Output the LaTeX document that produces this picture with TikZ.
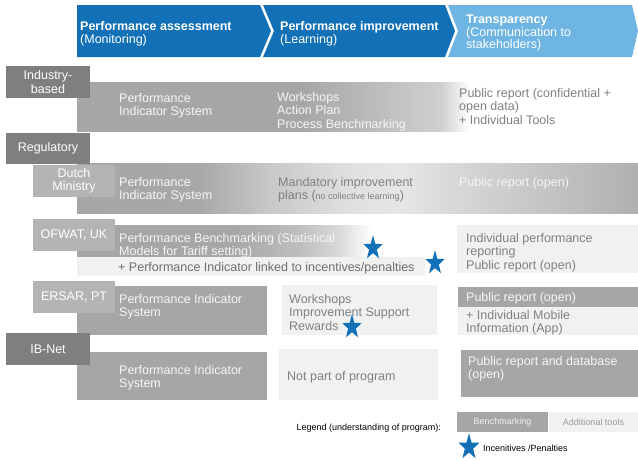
\documentclass[tikz,border=0pt]{standalone}
\usepackage{fontspec}
\setmainfont{Liberation Sans}
\usetikzlibrary{shapes.geometric}
\usepackage{xcolor}

\definecolor{hdrDark}{RGB}{18,112,183}
\definecolor{hdrLight}{RGB}{110,181,228}
\definecolor{lblDark}{RGB}{127,127,127}
\definecolor{lblLight}{RGB}{180,180,180}
\definecolor{barGray}{RGB}{166,166,166}
\definecolor{boxLight}{RGB}{240,241,241}
\definecolor{txtGray}{RGB}{128,128,128}
\definecolor{txtDark}{RGB}{110,110,110}
\definecolor{txtWhite}{RGB}{246,246,246}
\definecolor{fadeA}{RGB}{207,207,207}
\definecolor{dA}{RGB}{168,168,168}
\definecolor{dB}{RGB}{200,200,200}
\definecolor{dC}{RGB}{224,224,224}
\definecolor{dD}{RGB}{230,230,230}
\definecolor{dE}{RGB}{212,212,212}
\definecolor{dF}{RGB}{176,176,176}
\definecolor{oA}{RGB}{190,190,190}
\definecolor{oB}{RGB}{218,218,218}

\newcommand{\bodyfont}{\fontsize{12.5}{13.5}\selectfont}
\newcommand{\legfont}{\fontsize{9}{10}\selectfont}

% fades of the grey bars
\pgfdeclarehorizontalshading{indFade}{100bp}{color(0bp)=(barGray); color(44.9bp)=(barGray); color(57.4bp)=(fadeA); color(60bp)=(white); color(100bp)=(white)}
\pgfdeclarehorizontalshading{dutchFade}{100bp}{color(0bp)=(barGray); color(25bp)=(barGray); color(36bp)=(dA); color(42.2bp)=(dB); color(49.3bp)=(dC); color(53.8bp)=(dD); color(60bp)=(dE); color(75bp)=(dF); color(100bp)=(dF)}
\pgfdeclarehorizontalshading{ofwatFade}{100bp}{color(0bp)=(barGray); color(50.2bp)=(barGray); color(61.8bp)=(oA); color(68.4bp)=(oB); color(73.7bp)=(white); color(100bp)=(white)}

\begin{document}
\begin{tikzpicture}[
    x=1pt, y=-1pt,
    lbldark/.style={fill=lblDark, text=white, minimum width=84pt, minimum height=32pt, inner sep=0pt, align=center, font=\bodyfont},
    lbllight/.style={lbldark, fill=lblLight, minimum width=82pt},
    bar/.style={inner sep=0pt, shade},
    lightbox/.style={fill=boxLight, inner sep=0pt},
    graybox/.style={fill=barGray, inner sep=0pt},
    txt/.style={anchor=north west, inner sep=0pt, align=left, font=\bodyfont, text=txtGray},
    wtxt/.style={txt, text=txtWhite},
    htxt/.style={txt, text=white},
    incstar/.style={star, star points=5, star point ratio=2.5, fill=hdrDark, inner sep=0pt, minimum size=25.5pt, xscale=0.8, transform shape}
]
\useasboundingbox (0,0) rectangle (638,461);

% Header chevrons
\fill[hdrDark] (77,5) -- (260,5) -- (271,31) -- (260,57) -- (77,57) -- cycle;
\fill[hdrDark] (263,5) -- (445,5) -- (455,31) -- (445,57) -- (263,57) -- (274,31) -- cycle;
\fill[hdrLight] (448,5) -- (632,5) -- (638,31) -- (632,57) -- (448,57) -- (458,31) -- cycle;
\node[htxt] (hdrA) at (80,21) {\textbf{Performance assessment}\\(Monitoring)};
\node[htxt] (hdrB) at (280,21) {\textbf{Performance improvement}\\(Learning)};
\node[htxt, font=\fontsize{12.5}{12.5}\selectfont] (hdrC) at (466,15) {\textbf{Transparency}\\(Communication to\\stakeholders)};

% Bars and boxes
\node[bar, shading=indFade, minimum width=561pt, minimum height=49pt] (indBar) at (357.5,106.5) {};
\node[bar, shading=dutchFade, minimum width=561pt, minimum height=50pt] (dutchBar) at (357.5,188) {};
\node[bar, shading=ofwatFade, minimum width=303pt, minimum height=32pt] (ofwatBar) at (228.5,241) {};
\node[lightbox, minimum width=348pt, minimum height=19pt] (ofwatStrip) at (251,266.5) {};
\node[lightbox, minimum width=181pt, minimum height=48pt] (ofwatTrans) at (547.5,249) {};
\node[graybox, minimum width=190pt, minimum height=49pt] (ersarBar) at (172,310.5) {};
\node[lightbox, minimum width=155pt, minimum height=50pt] (ersarImp) at (359.5,310) {};
\node[graybox, minimum width=180pt, minimum height=20pt] (ersarPub) at (548,297) {};
\node[lightbox, minimum width=180pt, minimum height=28pt] (ersarApp) at (548,321) {};
\node[graybox, minimum width=190pt, minimum height=48pt] (ibBar) at (172,376) {};
\node[lightbox, minimum width=159pt, minimum height=51pt] (ibImp) at (358.5,374.5) {};
\node[graybox, minimum width=177pt, minimum height=47pt] (ibPub) at (549.5,373.5) {};

% Row labels
\node[lbldark] (indLbl) at (48,82) {Industry-\\based};
\node[lbldark, minimum height=31pt] (regLbl) at (48,148.5) {Regulatory};
\node[lbllight] (dutchLbl) at (74,181) {Dutch\\Ministry};
\node[lbllight] (ofwatLbl) at (74,234.5) {OFWAT, UK};
\node[lbllight] (ersarLbl) at (74,297) {ERSAR, PT};
\node[lbldark] (ibLbl) at (48,349) {IB-Net};

% Texts in the rows
\node[wtxt] (indT1) at (119,93) {Performance\\Indicator System};
\node[wtxt] (indT2) at (277,92) {Workshops\\Action Plan\\Process Benchmarking};
\node[txt] (indT3) at (459,88) {Public report (confidential +\\open data)\\+ Individual Tools};
\node[wtxt] (dutchT1) at (119,177) {Performance\\Indicator System};
\node[txt] (dutchT2) at (278,177) {Mandatory improvement\\plans ({\legfont no collective learning})};
\node[wtxt] (dutchT3) at (459,177) {Public report (open)};
\node[wtxt] (ofwatT1) at (119,233) {Performance Benchmarking (Statistical\\Models for Tariff setting)};
\node[txt, text=txtDark] (ofwatT2) at (118,262) {+ Performance Indicator linked to incentives/penalties};
\node[txt] (ofwatT3) at (466,233) {Individual performance\\reporting\\Public report (open)};
\node[wtxt] (ersarT1) at (119,294) {Performance Indicator\\System};
\node[txt] (ersarT2) at (289,294) {Workshops\\Improvement Support\\Rewards};
\node[wtxt] (ersarT3) at (466,292.5) {Public report (open)};
\node[txt] (ersarT4) at (466,310) {+ Individual Mobile\\Information (App)};
\node[wtxt] (ibT1) at (119,365) {Performance Indicator\\System};
\node[txt] (ibT2) at (287,371) {Not part of program};
\node[wtxt] (ibT3) at (468,356) {Public report and database\\(open)};

% Incentive stars
\node[incstar] (ofwatStar1) at (373,248) {};
\node[incstar] (ofwatStar2) at (435,263) {};
\node[incstar] (ersarStar) at (352,327) {};

% Legend
\node[anchor=east, inner sep=0pt, font=\legfont] (legTxt) at (441,428) {Legend (understanding of program):};
\node[graybox, minimum width=91pt, minimum height=20pt, font=\legfont, text=boxLight] (legBench) at (502.5,422) {Benchmarking};
\node[lightbox, minimum width=89pt, minimum height=20pt, font=\legfont, text=txtGray!80] (legAdd) at (593.5,422) {Additional tools};
\node[incstar, minimum size=27.5pt] (legStar) at (469,447) {};
\node[anchor=west, inner sep=0pt, font=\legfont] (legStarTxt) at (483,448) {Incenitives /Penalties};

\end{tikzpicture}
\end{document}
